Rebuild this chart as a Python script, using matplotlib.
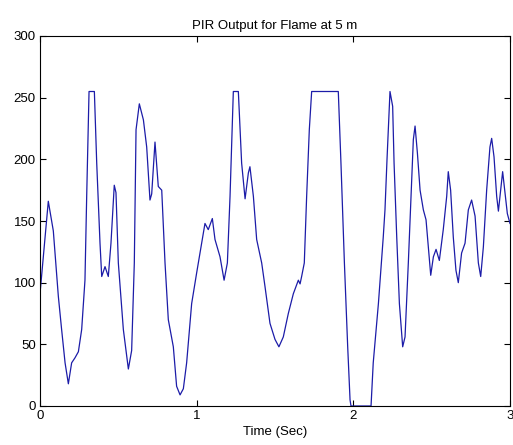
import matplotlib
matplotlib.use("Agg")
import matplotlib.pyplot as plt

# PIR samples (time in s, output counts)
time_s = [
    0.000, 0.053, 0.085, 0.117, 0.138, 0.160, 0.181, 0.202, 0.223, 0.245,
    0.266, 0.287, 0.298, 0.313, 0.347, 0.362, 0.383, 0.394, 0.415, 0.436,
    0.453, 0.474, 0.485, 0.500, 0.532, 0.564, 0.585, 0.602, 0.613, 0.634,
    0.660, 0.681, 0.702, 0.713, 0.734, 0.755, 0.777, 0.798, 0.819, 0.851,
    0.872, 0.894, 0.915, 0.936, 0.968, 1.000, 1.032, 1.053, 1.074, 1.100,
    1.117, 1.149, 1.175, 1.196, 1.213, 1.234, 1.266, 1.287, 1.309, 1.330,
    1.340, 1.362, 1.383, 1.415, 1.436, 1.468, 1.500, 1.525, 1.553, 1.585,
    1.617, 1.649, 1.660, 1.670, 1.687, 1.702, 1.719, 1.734, 1.904, 1.921,
    1.943, 1.964, 1.979, 1.985, 2.113, 2.127, 2.160, 2.191, 2.202, 2.215,
    2.234, 2.251, 2.260, 2.277, 2.294, 2.315, 2.330, 2.351, 2.372, 2.383,
    2.394, 2.409, 2.426, 2.447, 2.464, 2.479, 2.494, 2.511, 2.528, 2.549,
    2.574, 2.596, 2.606, 2.621, 2.638, 2.655, 2.670, 2.691, 2.713, 2.734,
    2.755, 2.777, 2.798, 2.813, 2.830, 2.851, 2.872, 2.883, 2.898, 2.915,
    2.926, 2.936, 2.953, 2.968, 2.983, 3.000,
]
pir_out = [
    91, 166, 142, 89, 62, 35, 18, 35, 39, 44,
    62, 102, 170, 255, 255, 197, 132, 105, 113, 105,
    132, 179, 173, 116, 62, 30, 45, 116, 224, 245,
    232, 210, 167, 172, 214, 178, 175, 116, 70, 48,
    16, 9, 14, 35, 83, 108, 132, 148, 143, 152,
    135, 121, 102, 116, 170, 255, 255, 197, 168, 189,
    194, 170, 135, 116, 97, 67, 54, 48, 56, 75,
    91, 102, 99, 105, 116, 170, 224, 255, 255, 197,
    116, 48, 5, 0, 0, 35, 83, 137, 159, 200,
    255, 243, 197, 137, 83, 48, 56, 116, 183, 216,
    227, 205, 175, 159, 151, 129, 106, 121, 127, 118,
    143, 170, 190, 175, 137, 110, 100, 124, 132, 159,
    167, 154, 116, 105, 129, 175, 210, 217, 202, 170,
    158, 170, 190, 173, 156, 148,
]

x_ticks = [0, 1, 2, 3]
y_ticks = [0, 50, 100, 150, 200, 250, 300]

plt.rcParams["font.family"] = ["Liberation Sans", "DejaVu Sans"]
plt.rcParams["font.size"] = 9.5

fig = plt.figure(figsize=(5.13, 4.45), dpi=100)
ax = fig.add_axes([40 / 513, 39 / 445, 470 / 513, 370 / 445])

ax.plot(time_s, pir_out, color="#1c1ca8", lw=0.9)

ax.set_xlim(0, 3)
ax.set_ylim(0, 300)
ax.set_xticks(x_ticks)
ax.set_yticks(y_ticks)
ax.tick_params(direction="in", top=True, right=True, length=4, width=0.8,
               labelsize=9.5, pad=3)
for s in ax.spines.values():
    s.set_linewidth(0.8)

ax.set_title("PIR Output for Flame at 5 m", fontsize=9.5, pad=5)
ax.set_xlabel("Time (Sec)", fontsize=9.5, labelpad=3)

fig.savefig("out.png", dpi=100)
